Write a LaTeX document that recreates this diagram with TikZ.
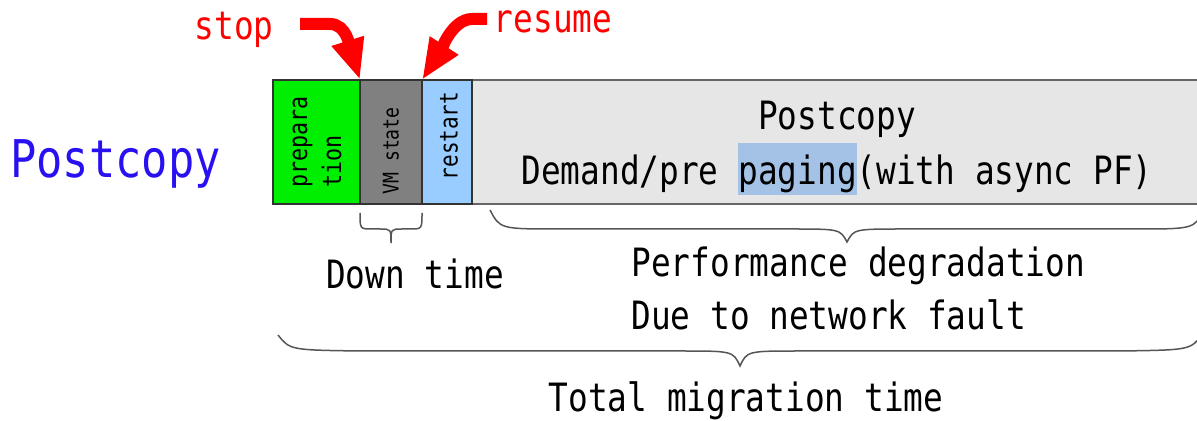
\documentclass[tikz,border=0pt]{standalone}
\usepackage{fontspec}
\setmainfont{DejaVu Sans Mono}[FakeStretch=0.84]
\usetikzlibrary{arrows.meta}
\definecolor{prepgreen}{RGB}{0,238,0}
\definecolor{vmgray}{RGB}{128,128,128}
\definecolor{restartblue}{RGB}{153,204,255}
\definecolor{copygray}{RGB}{230,230,230}
\definecolor{pagehl}{RGB}{164,194,230}
\definecolor{titleblue}{RGB}{40,16,240}
\definecolor{bracegray}{RGB}{85,85,85}
\newcommand\pagingmark[1]{{\setlength{\fboxsep}{0pt}\colorbox{pagehl}{\rule[-5pt]{0pt}{26pt}#1}}}

\begin{document}
\begin{tikzpicture}[x=0.5pt,y=-0.5pt,
  phase/.style={draw=black!80, line width=0.6pt, inner sep=0pt, outer sep=0pt,
                anchor=north west, minimum height=62pt},
  txt/.style={inner sep=0pt, font=\fontsize{19.5}{24}\selectfont},
  vtxt/.style={inner sep=0pt, rotate=90, align=left},
  curly/.style={draw=bracegray, line width=0.75pt},
  bigarrow/.style={draw=red, line width=6pt, -{Triangle[length=20.5pt,width=15.5pt]}}]

\useasboundingbox (0,0) rectangle (1197,421);
\clip (0,0) rectangle (1197,421);

% migration phases
\node[phase, fill=copygray, draw=black!60, minimum width=370pt] (copy) at (472,80) {};
\node[phase, fill=prepgreen, minimum width=43.5pt] (prep) at (273,80) {};
\node[phase, fill=vmgray, minimum width=31pt] (vm) at (360,80) {};
\node[phase, fill=restartblue, minimum width=25pt] (rst) at (422,80) {};

\node[vtxt, font=\fontsize{12.9}{17}\selectfont] (preptext) at (317,142) {prepara\\tion};
\node[vtxt, font=\fontsize{10.8}{13}\selectfont] (vmtext) at (391,151) {VM state};
\node[vtxt, font=\fontsize{12.5}{15}\selectfont] (rsttext) at (449,136) {restart};

\node[txt, anchor=base] (copytitle) at (837,130) {Postcopy};
\node[txt, anchor=base] (copydetail) at (837,185) {Demand/pre \pagingmark{paging}(with async PF)};

% method name
\node[inner sep=0pt, anchor=base, text=titleblue, font=\fontsize{26}{31}\selectfont]
  (method) at (115.5,178) {Postcopy};

% stop / resume markers
\node[txt, anchor=base, text=red] (stop) at (234,40) {stop};
\node[txt, anchor=base, text=red] (resume) at (553,33) {resume};
\coordinate (stoptail) at (300,24);
\coordinate (resumetail) at (487,19);
\draw[bigarrow] (stoptail) -- (330,24) .. controls (347,24) and (350,48) .. (vm.north west);
\draw[bigarrow] (resumetail) -- (472,19) .. controls (452,19) and (440,52) .. (rst.north west);

% braces
\draw[curly] (360,213) .. controls (360,229) .. (372,229) -- (380,229)
  .. controls (391,229) .. (391,243) .. controls (391,229) .. (402,229)
  -- (410,229) .. controls (422,229) .. (422,213);
\draw[curly] (490,210) .. controls (500,229) .. (560,229) -- (790,229)
  .. controls (840,229) .. (847,242) .. controls (854,229) .. (904,229)
  -- (1134,229) .. controls (1194,229) .. (1204,210);
\draw[curly] (278,335) .. controls (290,350) .. (360,351) -- (680,351)
  .. controls (733,351) .. (740,366) .. controls (747,351) .. (800,351)
  -- (1120,351) .. controls (1190,350) .. (1202,335);

% time spans
\node[txt, anchor=base] (downtime) at (415,289) {Down time};
\node[txt, anchor=base west] (perf) at (631,277) {Performance degradation};
\node[txt, anchor=base west] (fault) at (631,330) {Due to network fault};
\node[txt, anchor=base] (total) at (746,412) {Total migration time};
\end{tikzpicture}
\end{document}
